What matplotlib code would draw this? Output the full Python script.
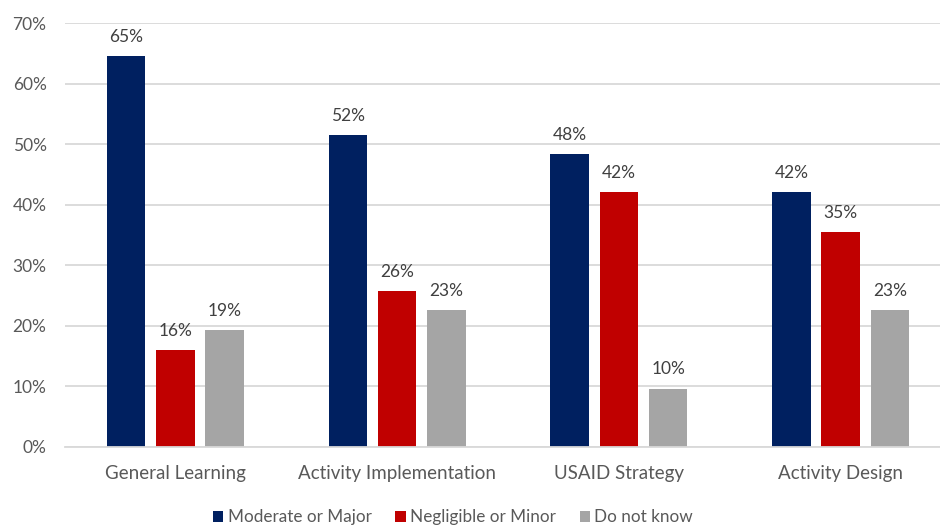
import matplotlib
matplotlib.use('Agg')
import matplotlib.pyplot as plt
from matplotlib.patches import Patch
import numpy as np

# Survey results: share of respondents by level of influence, per area
categories = ['General Learning', 'Activity Implementation', 'USAID Strategy', 'Activity Design']
series_names = ['Moderate or Major', 'Negligible or Minor', 'Do not know']
moderate_major = [64.6, 51.5, 48.4, 42.0]
negligible_minor = [16.0, 25.7, 42.0, 35.4]
do_not_know = [19.3, 22.6, 9.6, 22.6]
y_ticks = [0, 10, 20, 30, 40, 50, 60, 70]

colors = ['#002060', '#C00000', '#A5A5A5']
grid_color = '#D9D9D9'
tick_color = '#595959'
label_color = '#404040'

plt.rcParams['font.family'] = ['Lato', 'DejaVu Sans']

fig = plt.figure(figsize=(9.4, 5.29), dpi=100)
ax = fig.add_axes([0.0687, 0.1556, 0.9436, 0.8009])

x = np.arange(len(categories))
bar_w = 0.1736
step = 0.222
all_series = [moderate_major, negligible_minor, do_not_know]

for j, (vals, col) in enumerate(zip(all_series, colors)):
    bars = ax.bar(x + (j - 1) * step, vals, width=bar_w, color=col, zorder=3)
    for b, v in zip(bars, vals):
        ax.annotate(f'{v:.0f}%', (b.get_x() + b.get_width() / 2, v),
                    xytext=(0, 8), textcoords='offset points',
                    ha='center', va='bottom', fontsize=12.5, color=label_color)

ax.set_xlim(-0.5, len(categories) - 0.5)
ax.set_ylim(0, 70)
ax.set_yticks(y_ticks)
ax.set_yticklabels([f'{t}%' for t in y_ticks])
ax.set_xticks(x)
ax.set_xticklabels(categories)
ax.tick_params(axis='y', length=0, pad=13, labelsize=12.5, labelcolor=tick_color)
ax.tick_params(axis='x', length=0, pad=13, labelsize=13.5, labelcolor=tick_color)

ax.grid(axis='y', color=grid_color, linewidth=1.3, zorder=0)
for side in ['top', 'right', 'left']:
    ax.spines[side].set_visible(False)
ax.spines['bottom'].set_color(grid_color)
ax.spines['bottom'].set_linewidth(1.3)
ax.spines['bottom'].set_zorder(4)

handles = [Patch(facecolor=c, label=n) for c, n in zip(colors, series_names)]
leg = fig.legend(handles=handles, loc='center', bbox_to_anchor=(0.482, 0.022),
                 ncol=3, frameon=False, fontsize=12.3, handlelength=0.6,
                 handleheight=0.6, handletextpad=0.25, columnspacing=1.4)
for t in leg.get_texts():
    t.set_color(tick_color)

fig.savefig('out.png', dpi=100)
